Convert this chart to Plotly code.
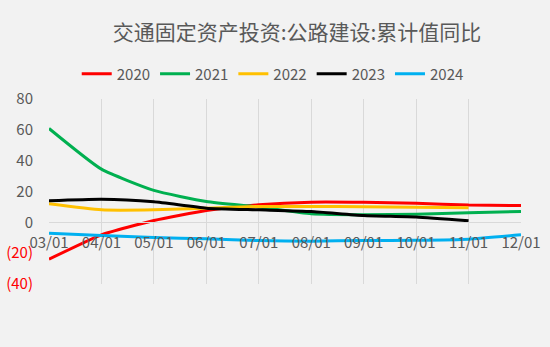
import plotly.graph_objects as go

months = ["03/01", "04/01", "05/01", "06/01", "07/01", "08/01", "09/01", "10/01", "11/01", "12/01"]

y2020 = [-23.9, -8.1, 1.2, 7.7, 11.4, 13.1, 13.0, 12.3, 11.2, 10.9]
y2021 = [60.9, 34.5, 20.7, 13.5, 9.9, 5.5, 4.9, 5.3, 6.2, 7.0]
y2022 = [12.0, 8.1, 8.1, 9.2, 10.3, 10.3, 10.1, 9.8, 9.4]
y2023 = [14.0, 15.0, 13.3, 9.2, 8.1, 7.0, 4.4, 3.4, 1.0]
y2024 = [-7.0, -8.5, -9.8, -10.7, -11.8, -12.2, -11.8, -11.6, -10.9, -8.1]

y_ticks = [-40, -20, 0, 20, 40, 60, 80]
y_tick_text = ['<span style="color:#ff0000">(40)</span>',
               '<span style="color:#ff0000">(20)</span>',
               "0", "20", "40", "60", "80"]

series = [
    ("2020", y2020, "#ff0000"),
    ("2021", y2021, "#00b050"),
    ("2022", y2022, "#ffc000"),
    ("2023", y2023, "#000000"),
    ("2024", y2024, "#00b0f0"),
]

FONT = "Noto Sans CJK SC"
GREY = "#595959"

fig = go.Figure()
for name, vals, color in series:
    fig.add_trace(go.Scatter(
        x=months[:len(vals)], y=vals, name=name, mode="lines",
        line=dict(color=color, width=3, shape="spline", smoothing=0.5),
    ))

y_min, y_max = -40, 80

fig.update_layout(
    width=550, height=347,
    paper_bgcolor="#f2f2f2", plot_bgcolor="#f2f2f2",
    margin=dict(l=49, r=29, t=99, b=63),
    font=dict(family=FONT, color=GREY, size=15),
    title=dict(text="交通固定资产投资:公路建设:累计值同比",
               x=0.54, xanchor="center", y=0.905, yanchor="middle",
               font=dict(size=21, color=GREY, family=FONT)),
    legend=dict(orientation="h", x=0.474, xanchor="center", y=1.135, yanchor="middle",
                font=dict(size=15, color=GREY), itemwidth=30,
                bgcolor="rgba(0,0,0,0)", traceorder="normal"),
    showlegend=True,
)

fig.update_xaxes(
    type="category", categoryorder="array", categoryarray=months,
    range=[0, len(months) - 1],
    showgrid=True, gridcolor="#d9d9d9", gridwidth=1,
    anchor="free", position=(0 - y_min) / (y_max - y_min),
    showline=True, linecolor="#d9d9d9", linewidth=1,
    ticks="", ticklabelstandoff=7, automargin=False,
    tickfont=dict(size=15, color=GREY),
    zeroline=False,
)

fig.update_yaxes(
    range=[y_min, y_max], tickvals=y_ticks, ticktext=y_tick_text,
    showgrid=False, zeroline=False, showline=False,
    ticks="", ticklabelstandoff=15, automargin=False,
    tickfont=dict(size=15, color=GREY),
)

fig.write_html("out.html")
